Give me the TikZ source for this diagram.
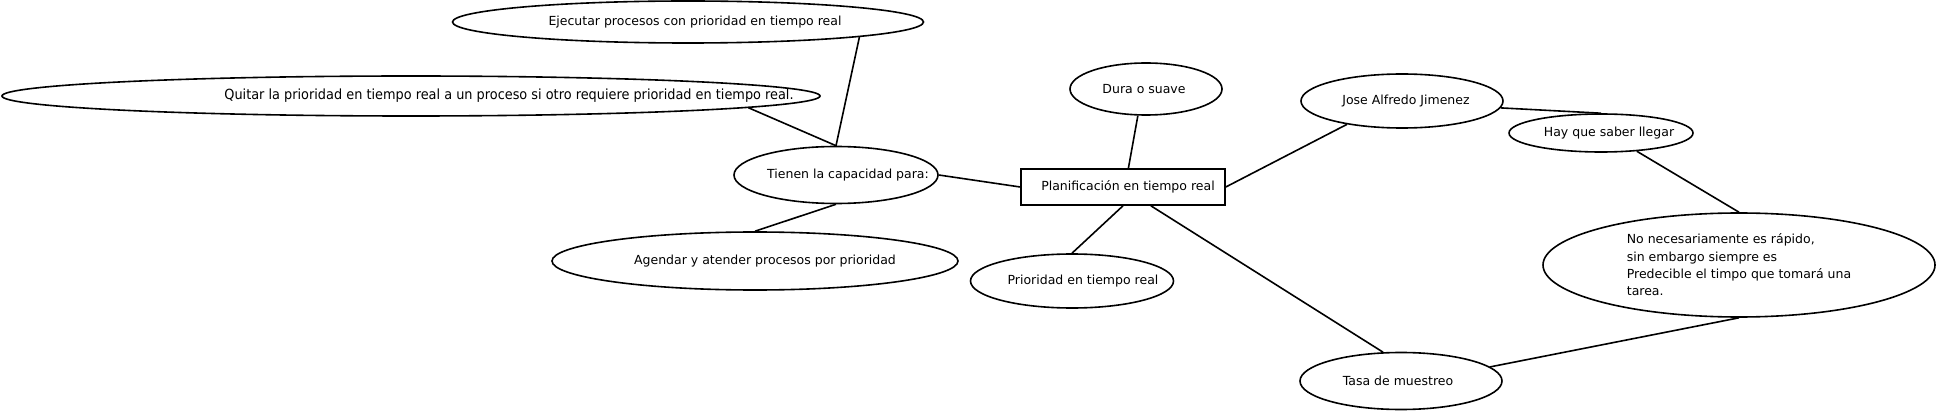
\documentclass[tikz,border=0pt]{standalone}
\usepackage{fontspec}
\setmainfont{DejaVu Sans}
\newfontfamily\narrowfont[FakeStretch=0.92]{DejaVu Sans}
\usetikzlibrary{shapes.geometric}
\newcommand{\ovaltext}[2]{\makebox[0pt]{\hspace*{#1}#2}}

\begin{document}
\begin{tikzpicture}[x=1pt, y=-1pt,
  idea/.style={ellipse, draw=black, line width=1.6pt, inner sep=0pt, font=\fontsize{12.5}{17.3}\selectfont},
  topic/.style={rectangle, draw=black, line width=1.6pt, inner sep=0pt, minimum width=204pt, minimum height=36pt, font=\fontsize{12.5}{15}\selectfont},
  link/.style={line width=1.6pt}]

  \useasboundingbox (0,0) rectangle (1938,414);

  \node[topic] (plan) at (1123,187) {\ovaltext{10pt}{Planificación en tiempo real}};

  \node[idea, minimum width=471pt, minimum height=42pt] (ejecutar) at (688,22) {\ovaltext{14pt}{Ejecutar procesos con prioridad en tiempo real}};
  \node[idea, minimum width=818pt, minimum height=40pt] (quitar) at (411,96) {\ovaltext{196pt}{\narrowfont\fontsize{14}{16}\selectfont Quitar la prioridad en tiempo real a un proceso si otro requiere prioridad en tiempo real.}};
  \node[idea, minimum width=204pt, minimum height=57pt] (tienen) at (836,175) {\ovaltext{24pt}{Tienen la capacidad para:}};
  \node[idea, minimum width=406pt, minimum height=58pt] (agendar) at (755,261) {\ovaltext{20pt}{Agendar y atender procesos por prioridad}};
  \node[idea, minimum width=152pt, minimum height=52pt] (dura) at (1146,89) {\ovaltext{-4pt}{Dura o suave}};
  \node[idea, minimum width=203pt, minimum height=54pt] (prio) at (1072,281) {\ovaltext{22pt}{Prioridad en tiempo real}};
  \node[idea, minimum width=202pt, minimum height=54pt] (jose) at (1402,101) {\ovaltext{8pt}{Jose Alfredo Jimenez}};
  \node[idea, minimum width=184pt, minimum height=38pt] (hay) at (1601,133) {\ovaltext{16pt}{Hay que saber llegar}};
  \node[idea, minimum width=392pt, minimum height=104pt, align=left] (nota) at (1739,265) {No necesariamente es rápido,\\ sin embargo siempre es\\ Predecible el timpo que tomará una\\ tarea.};
  \node[idea, minimum width=202pt, minimum height=57pt] (tasa) at (1401,381) {\ovaltext{-6pt}{Tasa de muestreo}};

  \draw[link] (ejecutar.-5) -- (tienen.north);
  \draw[link] (quitar.-2.8) -- (tienen.north);
  \draw[link] (tienen.east) -- (plan.west);
  \draw[link] (tienen.south) -- (agendar.north);
  \draw[link] (plan.74) -- (dura.-107);
  \draw[link] (plan.south) -- (prio.north);
  \draw[link] (plan.-34) -- (tasa.122);
  \draw[link] (plan.east) -- (jose.-157);
  \draw[link] (jose.-4) -- (hay.north);
  \draw[link] (hay.-27.5) -- (nota.north);
  \draw[link] (nota.south) -- (tasa.9.5);

\end{tikzpicture}
\end{document}
